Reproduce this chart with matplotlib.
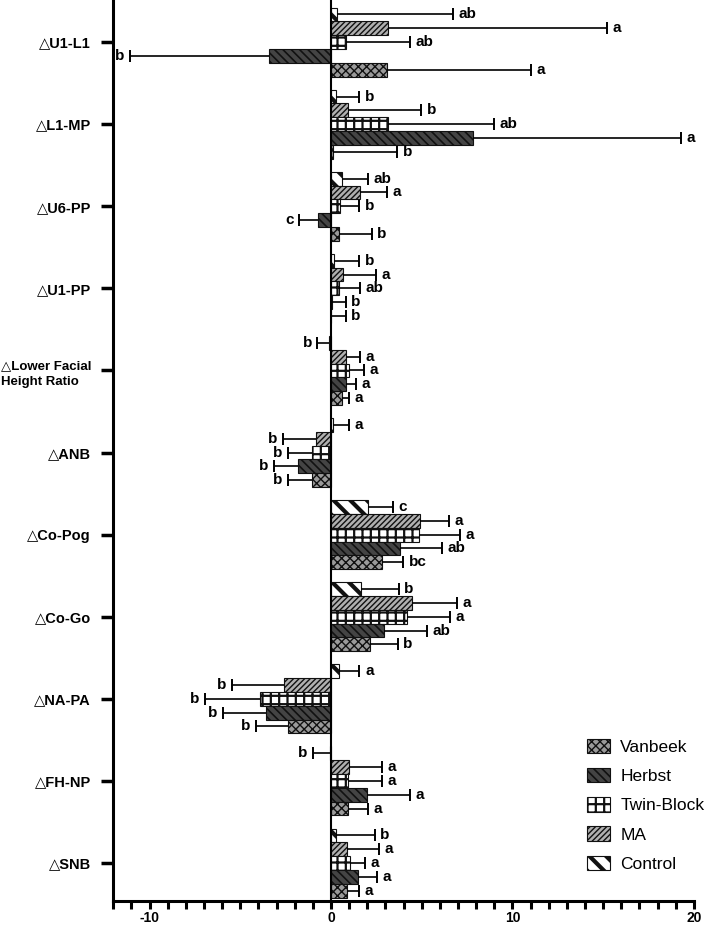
import matplotlib
matplotlib.use("Agg")
import matplotlib.pyplot as plt
import numpy as np

plt.rcParams['hatch.linewidth'] = 1.0

categories = ["△U1-L1", "△L1-MP", "△U6-PP", "△U1-PP", "△Lower Facial\nHeight Ratio",
              "△ANB", "△Co-Pog", "△Co-Go", "△NA-PA", "△FH-NP", "△SNB"]
groups = ["Control", "MA", "Twin-Block", "Herbst", "Vanbeek"]

means = {
    "Control":    [0.32, 0.27, 0.62, 0.15, -0.12, 0.12, 2.06, 1.67, 0.42, -0.05, 0.25],
    "MA":         [3.16, 0.92, 1.62, 0.67, 0.82, -0.82, 4.90, 4.48, -2.61, 1.00, 0.87],
    "Twin-Block": [0.82, 3.16, 0.50, 0.42, 1.00, -1.07, 4.85, 4.18, -3.90, 0.92, 1.07],
    "Herbst":     [-3.40, 7.80, -0.70, 0.07, 0.82, -1.82, 3.78, 2.94, -3.56, 1.99, 1.49],
    "Vanbeek":    [3.10, 0.12, 0.42, 0.02, 0.62, -1.02, 2.79, 2.16, -2.36, 0.95, 0.87],
}
sds = {
    "Control":    [6.38, 1.30, 1.44, 1.42, 0.63, 0.88, 1.37, 2.06, 1.15, 0.95, 2.16],
    "MA":         [12.04, 4.05, 1.48, 1.82, 0.80, 1.84, 1.62, 2.49, 2.86, 1.79, 1.79],
    "Twin-Block": [3.53, 5.84, 1.07, 1.20, 0.80, 1.29, 2.24, 2.36, 3.07, 1.89, 0.80],
    "Herbst":     [7.70, 11.50, 1.04, 0.75, 0.55, 1.34, 2.32, 2.36, 2.41, 2.36, 1.07],
    "Vanbeek":    [7.90, 3.54, 1.82, 0.80, 0.38, 1.34, 1.19, 1.52, 1.79, 1.09, 0.67],
}
letters = {
    "Control":    ["ab", "b", "ab", "b", "b", "a", "c", "b", "a", "b", "b"],
    "MA":         ["a", "b", "a", "a", "a", "b", "a", "a", "b", "a", "a"],
    "Twin-Block": ["ab", "ab", "b", "ab", "a", "b", "a", "a", "b", "a", "a"],
    "Herbst":     ["b", "a", "c", "b", "a", "b", "ab", "ab", "b", "a", "a"],
    "Vanbeek":    ["a", "b", "b", "b", "a", "b", "bc", "b", "b", "a", "a"],
}
xticks = [-10, 0, 10, 20]

styles = {
    "Vanbeek":    dict(facecolor="#9a9a9a", hatch="xxxx", hlw=1.0),
    "Herbst":     dict(facecolor="#444444", hatch="\\\\\\\\", hlw=1.2),
    "Twin-Block": dict(facecolor="white", hatch="++", hlw=1.6),
    "MA":         dict(facecolor="#b0b0b0", hatch="//////", hlw=1.0),
    "Control":    dict(facecolor="white", hatch="\\\\", hlw=3.0),
}

label_font = ['Liberation Sans', 'DejaVu Sans']

fig = plt.figure(figsize=(7.08, 9.27), dpi=100)
ax = fig.add_axes([0.16, 0.028, 0.82, 0.972])

n = len(categories)
ypos = np.arange(n)[::-1].astype(float)  # first category at top
bh = 0.168
offsets = {g: (2 - i) * bh for i, g in enumerate(groups)}


def style_patch(p, st):
    p.set_hatch(st["hatch"])
    try:
        p.set_hatch_linewidth(st["hlw"])
    except Exception:
        pass


handles = {}
for g in groups:
    st = styles[g]
    y = ypos + offsets[g]
    m = np.array(means[g])
    s = np.array(sds[g])
    b = ax.barh(y, m, height=bh, facecolor=st["facecolor"], edgecolor="#111111",
                linewidth=0.8, zorder=2, label=g)
    for p in b.patches:
        style_patch(p, st)
    handles[g] = b
    ends = m + np.sign(m) * s
    ax.hlines(y, m, ends, color="black", linewidth=1.2, zorder=3)
    ax.plot(ends, y, linestyle="none", marker="|", markersize=8, mew=1.4, color="black", zorder=3)
    for yy, e, lab, mm in zip(y, ends, letters[g], m):
        if mm >= 0:
            ax.annotate(lab, (e, yy), xytext=(4, 0), textcoords="offset points",
                        ha="left", va="center", fontsize=11, fontweight="bold", family=label_font)
        else:
            ax.annotate(lab, (e, yy), xytext=(-4, 0), textcoords="offset points",
                        ha="right", va="center", fontsize=11, fontweight="bold", family=label_font)

ax.axvline(0, color="black", linewidth=1.5, zorder=4)

ax.set_xlim(-12, 20)
ax.set_ylim(-0.463, 10.512)
ax.set_xticks(xticks)
ax.set_xticks(np.arange(-12, 21, 1), minor=True)
ax.set_xticklabels([str(t) for t in xticks], fontweight="bold", fontsize=10, family=label_font)
ax.set_yticks(ypos)
ax.set_yticklabels(categories, fontweight="bold", fontsize=10.5, family=label_font)
for t in ax.get_yticklabels():
    t.set_multialignment("left")
    if "\n" in t.get_text():
        t.set_fontsize(9.5)
        t.set_linespacing(1.45)

for sp in ["top", "right"]:
    ax.spines[sp].set_visible(False)
for sp in ["left", "bottom"]:
    ax.spines[sp].set_linewidth(2.2)

ax.tick_params(axis="x", which="major", length=6, width=2.2, pad=1.5)
ax.tick_params(axis="x", which="minor", length=6, width=2.2)
ax.tick_params(axis="y", which="major", length=9, width=2.5, pad=7)

leg_order = ["Vanbeek", "Herbst", "Twin-Block", "MA", "Control"]
leg = ax.legend([handles[g] for g in leg_order], leg_order, loc="lower right",
                bbox_to_anchor=(1.045, 0.015), frameon=False,
                prop={'family': label_font, 'size': 12.5},
                handlelength=1.3, handleheight=0.9, labelspacing=0.75, handletextpad=0.6)
for g, h in zip(leg_order, leg.legend_handles):
    style_patch(h, styles[g])

fig.savefig("out.png", dpi=100)
